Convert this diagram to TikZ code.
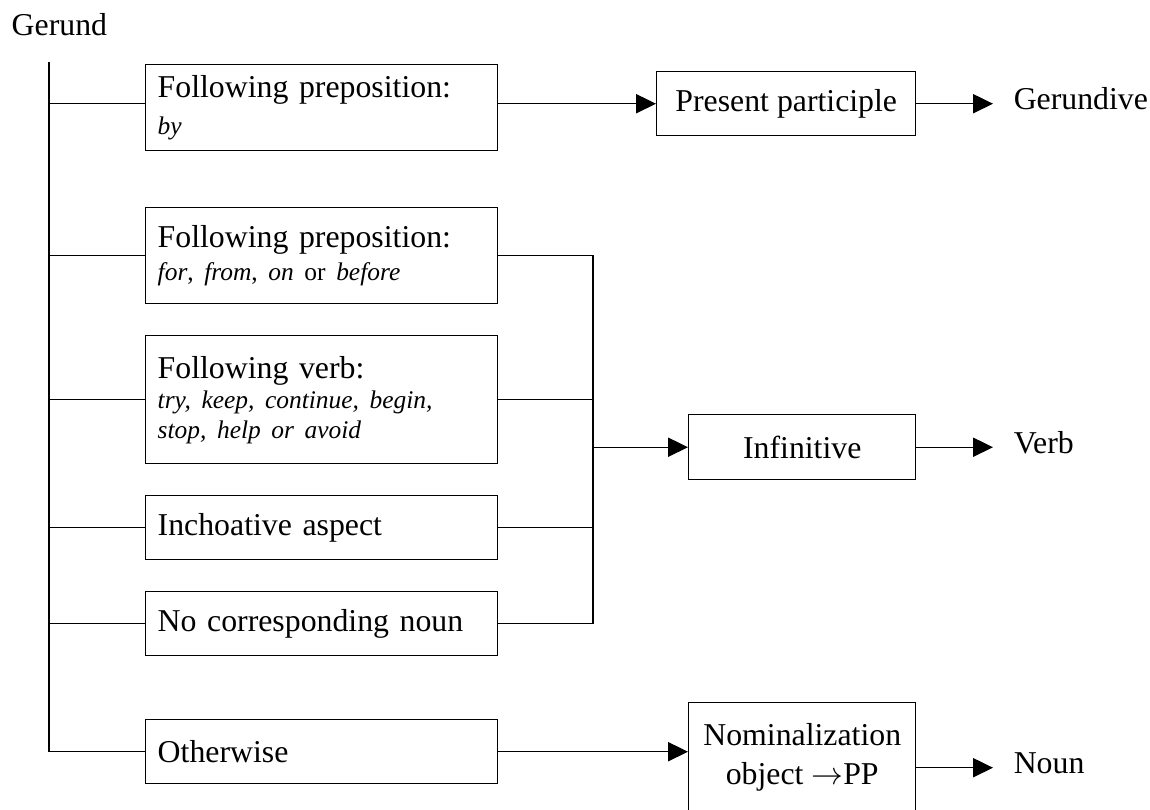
\documentclass[tikz,border=0pt]{standalone}
\usepackage{fontspec}
\setmainfont{Liberation Serif}
\usetikzlibrary{arrows.meta,calc}
\newcommand{\smit}{\fontsize{9.6}{11.32}\selectfont\itshape}
\newcommand{\smrm}{\fontsize{9.6}{11.32}\selectfont}
\begin{document}
\begin{tikzpicture}[x=0.3774pt,y=-0.3774pt,
  line width=0.55pt,
  every node/.style={font=\fontsize{12}{11.32}\selectfont},
  lbox/.style={draw, rectangle, anchor=north west, text width=123.79pt, inner xsep=4.53pt, inner ysep=2pt, align=left},
  cbox/.style={draw, rectangle, anchor=north west, align=center, inner sep=2pt},
  lbl/.style={anchor=base west, inner xsep=7.55pt, inner ysep=0pt},
  arr/.style={-{Triangle[length=7.5pt,width=7.2pt]}}]
\useasboundingbox (0,0) rectangle (1150,809);
\clip (0,0) rectangle (1150,809);

% title
\node[anchor=base west, inner sep=0pt] (ger) at (11,36) {Gerund};

% left column boxes
\node[lbox, minimum height=32.46pt] (b1) at (145,64)
  {Following preposition:\\[2.64pt]{\smit by}};
\node[lbox, minimum height=36.23pt] (b2) at (145,207)
  {Following preposition:\\[1.13pt]{\smrm\textit{for}, \textit{from}, \textit{on} or \textit{before}}};
\node[lbox, minimum height=48.31pt] (b3) at (145,335)
  {Following verb:\\{\smit try, keep, continue, begin,}\\{\smit stop, help or avoid}};
\node[lbox, minimum height=24.15pt] (b4) at (145,495) {Inchoative aspect};
\node[lbox, minimum height=24.15pt] (b5) at (145,591) {No corresponding noun};
\node[lbox, minimum height=24.15pt] (b6) at (145,719) {Otherwise};

% right column boxes
\node[cbox, minimum width=97.75pt, minimum height=24.15pt] (pp) at (656,71) {Present participle};
\node[cbox, minimum width=85.67pt, minimum height=24.53pt] (inf) at (688,414) {Infinitive};
\node[cbox, minimum width=85.67pt, minimum height=41.5pt] (nom) at (688,702) {Nominalization\\[3.4pt]object \(\rightarrow\)PP};

% result labels
\node[lbl] (gdv) at (993,110) {Gerundive};
\node[lbl] (verb) at (993,453) {Verb};
\node[lbl] (noun) at (993,773) {Noun};

% trunk
\coordinate (tt) at (49,62);
\coordinate (b1w) at ($(b1.west)+(0,-4)$);
\coordinate (b1e) at ($(b1.east)+(0,-4)$);
\draw (tt) -- (tt |- b6.west) -- (b6.west);
\draw (tt |- b1w) -- (b1w);
\foreach \n in {b2,b3,b4,b5} \draw (tt |- \n.west) -- (\n.west);

% collector
\coordinate (cx) at (593,0);
\draw (b2.east) -- (b2.east -| cx) -- (b5.east -| cx) -- (b5.east);
\draw (b3.east) -- (b3.east -| cx);
\draw (b4.east) -- (b4.east -| cx);

% arrows
\draw[arr] (b1e) -- (b1e -| pp.west);
\draw[arr] (pp.east) -- (pp.east -| gdv.west);
\draw[arr] (inf.west -| cx) -- (inf.west);
\draw[arr] (inf.east) -- (inf.east -| verb.west);
\draw[arr] (b6.east) -- (b6.east -| nom.west);
\coordinate (nome) at ($(nom.east)+(0,10)$);
\draw[arr] (nome) -- (nome -| noun.west);
\end{tikzpicture}
\end{document}
